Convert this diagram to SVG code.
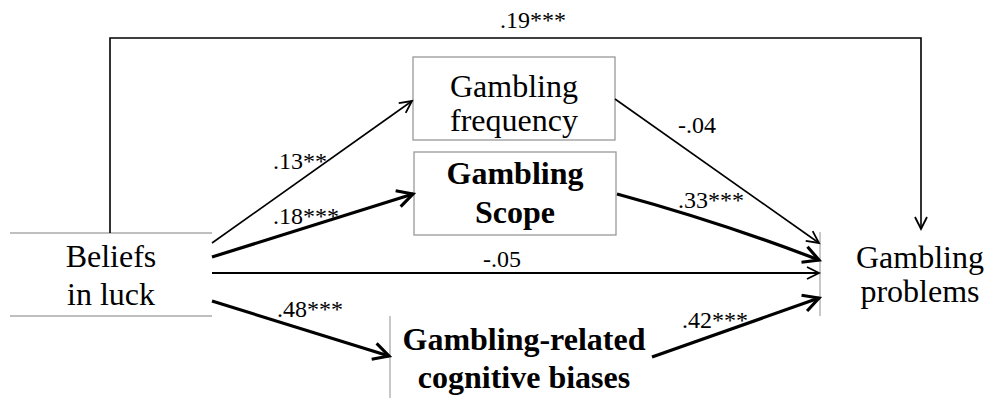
<svg xmlns="http://www.w3.org/2000/svg" width="992" height="398" viewBox="0 0 992 398">
<style>
  text { font-family: "Liberation Serif", "Times New Roman", serif; fill: #000; }
  .node { font-size: 32px; text-anchor: middle; }
  .bold { font-weight: bold; }
  .lbl { font-size: 24px; }
  .box { fill: #fff; stroke: #999; stroke-width: 1.3; }
  .edge { fill: none; stroke: #aaa; stroke-width: 1.3; }
  .thin { fill: none; stroke: #000; stroke-width: 1.6; marker-end: url(#ah); }
  .mid { fill: none; stroke: #000; stroke-width: 2.2; marker-end: url(#ah); }
  .thick { fill: none; stroke: #000; stroke-width: 3.2; marker-end: url(#ahb); }
</style>
<defs>
  <marker id="ah" markerUnits="userSpaceOnUse" markerWidth="16" markerHeight="16" refX="13" refY="7" orient="auto" viewBox="0 0 16 14">
    <path d="M1,1 L13,7 L1,13" fill="none" stroke="#000" stroke-width="1.8"/>
  </marker>
  <marker id="ahb" markerUnits="userSpaceOnUse" markerWidth="20" markerHeight="20" refX="15" refY="9" orient="auto" viewBox="0 0 18 18">
    <path d="M1,1.5 L15,9 L1,16.5" fill="none" stroke="#000" stroke-width="2.8"/>
  </marker>
</defs>

<g id="beliefs">
  <line class="edge" x1="10" y1="233" x2="212" y2="233"/>
  <line class="edge" x1="10" y1="316" x2="212" y2="316"/>
  <text class="node" x="111" y="267">Beliefs</text>
  <text class="node" x="111" y="305">in luck</text>
</g>

<g id="frequency">
  <rect class="box" x="413" y="57" width="202" height="83"/>
  <text class="node" x="514" y="97">Gambling</text>
  <text class="node" x="514" y="131">frequency</text>
</g>

<g id="scope">
  <rect class="box" x="414" y="152" width="202" height="83"/>
  <text class="node bold" x="515" y="184">Gambling</text>
  <text class="node bold" x="515" y="223">Scope</text>
</g>

<g id="biases">
  <line class="edge" x1="390" y1="316" x2="390" y2="398"/>
  <text class="node bold" x="524" y="350" font-size="31">Gambling-related</text>
  <text class="node bold" x="524" y="388" font-size="31">cognitive biases</text>
</g>

<g id="problems">
  <line class="edge" x1="820" y1="232" x2="820" y2="316"/>
  <text class="node" x="920" y="268">Gambling</text>
  <text class="node" x="920" y="302">problems</text>
</g>

<g id="connectors">
  <path class="thin" d="M110,233 L110,38 L921,38 L921,229" stroke-width="2"/>
  <path class="thin" d="M212,243 L412,101"/>
  <path class="thick" d="M212,257 L413,194"/>
  <path class="mid" d="M212,273 L819,273"/>
  <path class="thick" d="M212,301 L389,356"/>
  <path class="thin" d="M615,99 L819,243"/>
  <path class="thick" d="M617,194 Q720,222 819,260"/>
  <path class="thick" d="M652,357 L819,298"/>
</g>

<g id="labels">
  <text class="lbl" x="500" y="28">.19***</text>
  <text class="lbl" x="273" y="169">.13**</text>
  <text class="lbl" x="273" y="224">.18***</text>
  <text class="lbl" x="483" y="267">-.05</text>
  <text class="lbl" x="277" y="317">.48***</text>
  <text class="lbl" x="678" y="133">-.04</text>
  <text class="lbl" x="678" y="208">.33***</text>
  <text class="lbl" x="682" y="328">.42***</text>
</g>
</svg>
